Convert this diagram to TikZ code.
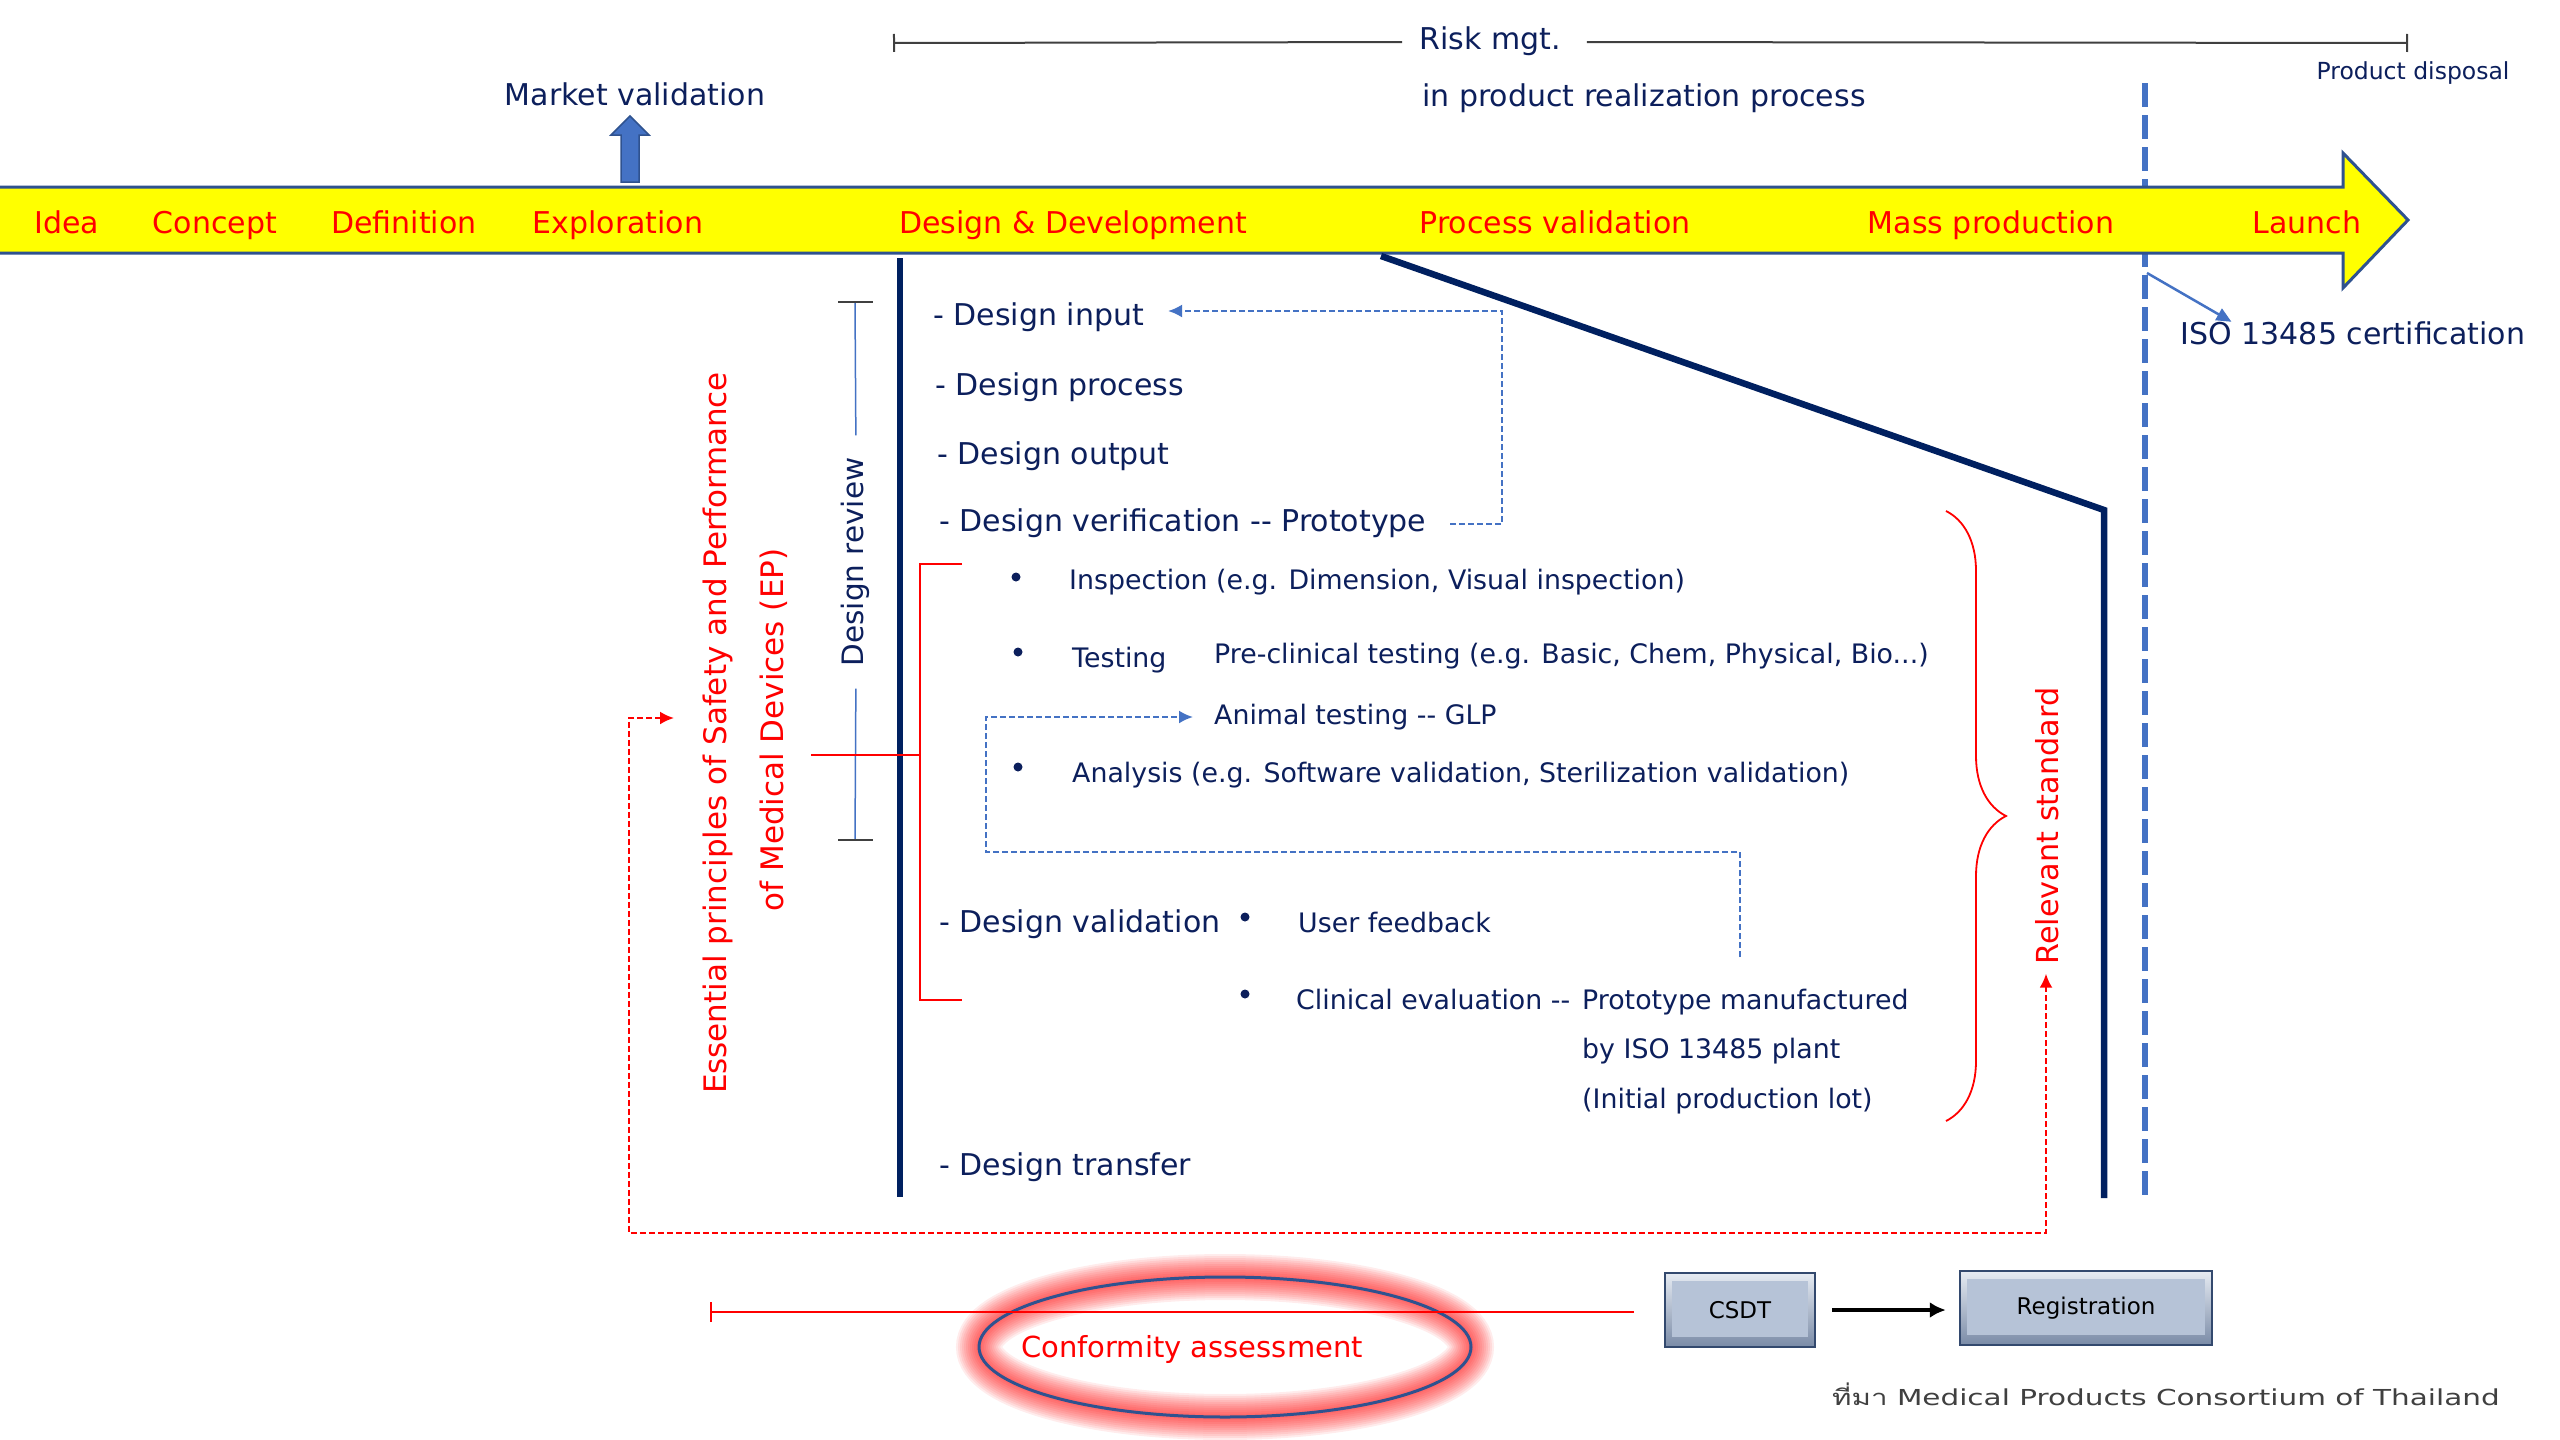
\documentclass[tikz,border=0pt]{standalone}
\usepackage{fontspec}
\setmainfont{DejaVu Sans}
\newfontfamily\thaifont[Script=Thai]{Loma}
\usetikzlibrary{arrows.meta,decorations.pathreplacing,shapes.geometric,calc}
\definecolor{cnavy}{HTML}{002060}
\definecolor{ctext}{HTML}{0C1F5C}
\definecolor{cblue}{HTML}{4472C4}
\definecolor{cbord}{HTML}{2F528F}
\definecolor{cred}{HTML}{FF0000}
\definecolor{cgray}{HTML}{404040}
\definecolor{cyel}{HTML}{FFFF00}
\definecolor{cboxb}{HTML}{33496E}
\definecolor{cboxt}{HTML}{E6EBF2}
\definecolor{cboxm}{HTML}{B6C3D7}
\definecolor{cboxd}{HTML}{7A8BA7}
\newcommand{\fsz}[1]{\fontsize{#1}{#1}\selectfont}
\begin{document}
\begin{tikzpicture}[x=1pt,y=-1pt,
  txt/.style={inner sep=0pt, text height=22.8pt, text depth=7.2pt},
  band/.style={txt, text=cred, font=\fsz{30}},
  mainitem/.style={txt, anchor=west, text=ctext, font=\fsz{30}},
  subitem/.style={inner sep=0pt, text height=20.4pt, text depth=6.4pt, anchor=west, text=ctext, font=\fsz{26.8}},
  rot/.style={txt, rotate=90},
  bul/.style={circle, fill=ctext, inner sep=0pt, minimum size=9pt},
  bdash/.style={cblue, line width=2.2pt, dash pattern=on 6pt off 3pt},
  rdash/.style={cred, line width=2.2pt, dash pattern=on 6pt off 3pt},
  tipb/.style={-{Latex[length=14pt,width=13pt]}},
  sbox/.style={draw=cboxb, line width=2.5pt, top color=cboxt, bottom color=cboxd,
    inner sep=0pt, text=black, font=\fsz{23},
    path picture={\fill[cboxm] ([shift={(7pt,-8pt)}]path picture bounding box.north west) rectangle ([shift={(-7pt,10pt)}]path picture bounding box.south east);}}
]
\useasboundingbox (0,0) rectangle (2560,1440);
\fill[white] (0,0) rectangle (2560,1440);

% blue dashed vertical (behind band)
\draw[cblue, line width=6.5pt, dash pattern=on 24pt off 8pt] (2145,83) -- (2145,1197);

% yellow band arrow
\draw[cbord, line width=3pt, fill=cyel] (-5,187) -- (2343,187) -- (2343,153) -- (2408,220) -- (2343,288) -- (2343,253) -- (-5,253) -- cycle;

% band labels
\node[band] (idea) at (67,226) {Idea};
\node[band] (concept) at (215,226) {Concept};
\node[band] (defn) at (404,226) {Definition};
\node[band] (explo) at (618,226) {Exploration};
\node[band] (dd) at (1073,226) {Design \& Development};
\node[band] (pval) at (1555,226) {Process validation};
\node[band] (mass) at (1991,226) {Mass production};
\node[band] (launch) at (2307,226) {Launch};

% market validation
\draw[cbord, fill=cblue, line width=1.5pt] (621,182) -- (621,135) -- (611,135) -- (630,116) -- (649,135) -- (639,135) -- (639,182) -- cycle;
\node[txt, text=ctext, font=\fsz{30}] (mkt) at (635,98) {Market validation};

% risk management
\node[txt, text=ctext, font=\fsz{30}] (risk) at (1490,42) {Risk mgt.};
\coordinate (rkL) at (893,43);
\coordinate (rkR) at (2408,43);
\draw[cgray, line width=2pt, {Bar[width=18pt]}-, shorten >=17pt] (rkL) -- (risk.west);
\draw[cgray, line width=2pt, -{Bar[width=18pt]}, shorten <=26pt] (risk.east) -- (rkR);
\node[txt, anchor=west, text=ctext, font=\fsz{30}] (inprod) at (1422,99) {in product realization process};
\node[txt, text=ctext, font=\fsz{23.5}] (disp) at (2413,72) {Product disposal};

% ISO
\node[txt, text=ctext, font=\fsz{30}] (iso) at (2353,337) {ISO 13485 certification};
\coordinate (isoS) at (2147,273);
\draw[cblue, line width=2.5pt, -{Triangle[length=15pt,width=13pt]}] (isoS) -- ($(iso.north west)+(51,0)$);

% navy lines
\draw[cnavy, line width=6.5pt] (900,258) -- (900,1197);
\draw[cnavy, line width=6.5pt, line join=miter] (1381,256) -- (2104,510) -- (2104,1198);

% items
\node[mainitem] (din) at (933,318) {- Design input};
\node[mainitem] (dproc) at (935,388) {- Design process};
\node[mainitem] (dout) at (937,457) {- Design output};
\node[mainitem] (dver) at (939,524) {- Design verification -{}- Prototype};
\node[bul] (b1) at (1016,577) {};
\node[subitem] (insp) at (1069,582) {Inspection (e.g. Dimension, Visual inspection)};
\node[bul] (b2) at (1018,652) {};
\node[subitem] (test) at (1072,660) {Testing};
\node[subitem] (pre) at (1214,656) {Pre-clinical testing (e.g. Basic, Chem, Physical, Bio...)};
\node[subitem] (anim) at (1214,717) {Animal testing -{}- GLP};
\node[bul] (b3) at (1018,767) {};
\node[subitem] (anal) at (1072,775) {Analysis (e.g. Software validation, Sterilization validation)};
\node[mainitem] (dval) at (939,925) {- Design validation};
\node[bul] (b4) at (1245,917) {};
\node[subitem] (user) at (1298,925) {User feedback};
\node[bul] (b5) at (1245,994) {};
\node[subitem] (clin) at (1296,1002) {Clinical evaluation -{}-};
\node[subitem] (proto) at (1582,1002) {Prototype manufactured};
\node[subitem] (byiso) at (1582,1051) {by ISO 13485 plant};
\node[subitem] (initl) at (1582,1101) {(Initial production lot)};
\node[mainitem] (dtrans) at (939,1168) {- Design transfer};

% blue dashed feedback loops
\coordinate (bc1) at (1502,311);
\draw[bdash, tipb, shorten <=24pt, shorten >=24pt] (dver.east) -| (bc1) -- (din.east |- bc1);
\coordinate (bc2) at (1740,957);
\coordinate (bc3) at (986,852);
\draw[bdash, tipb, shorten >=21pt] (bc2) |- (bc3) |- (anim.west);

% design review
\node[rot, text=ctext, font=\fsz{29.5}] (dr) at (856,562) {Design review};
\coordinate (drT) at (855,302);
\coordinate (drB) at (855,840);
\draw[cblue, line width=1.5pt, shorten >=22pt] (drT) -- (dr.east);
\draw[cblue, line width=1.5pt, shorten <=22pt] (dr.west) -- (drB);
\draw[cgray, line width=2pt] (838,302) -- (873,302);
\draw[cgray, line width=2pt] (838,840) -- (873,840);

% essential principles
\node[rot, text=cred, font=\fsz{31}] (ep1) at (719,733) {Essential principles of Safety and Performance};
\node[rot, text=cred, font=\fsz{31}] (ep2) at (776,730) {of Medical Devices (EP)};
\draw[cred, line width=1.8pt] (962,564) -- (920,564) -- (920,1000) -- (962,1000);
\draw[cred, line width=1.8pt] (811,755) -- (920,755);

% relevant standard
\node[rot, text=cred, font=\fsz{30.3}] (rel) at (2051,826) {Relevant standard};
\draw[cred, line width=1.8pt, decorate, decoration={brace, amplitude=60pt}] (1946,511) -- (1946,1121);

% red dashed loop
\coordinate (epa) at (674,718);
\coordinate (lc) at (629,1233);
\coordinate (rc) at (2046,1233);
\draw[rdash, {Latex[length=14pt,width=13pt]}-{Latex[length=14pt,width=13pt]}, shorten >=9pt] (epa) -- (lc |- epa) -- (lc) -- (rc) -- (rc |- rel.west);

% conformity assessment
\foreach \w in {46,42,...,6} \draw[cred, line width=\w pt, opacity=0.075] (1225,1347) ellipse [x radius=246, y radius=70];
\node[ellipse, draw=cbord, line width=3pt, minimum width=492pt, minimum height=140pt, inner sep=0pt] (confE) at (1225,1347) {};
\node[txt, text=cred, font=\fsz{29}] (conf) at (1192,1350) {Conformity assessment};

% boxes
\node[sbox, minimum width=150pt, minimum height=74pt] (csdt) at (1740,1310) {CSDT};
\node[sbox, minimum width=252pt, minimum height=74pt] (reg) at (2086,1308) {Registration};
\draw[black, line width=3.5pt, -{Latex[length=16pt,width=16pt]}, shorten <=16pt, shorten >=13pt] (csdt.east) -- (reg.west |- csdt.east);
\coordinate (cfL) at (710,1312);
\draw[cred, line width=2pt, {Bar[width=20pt]}-, shorten >=30pt] (cfL) -- (csdt.west |- cfL);

% source
\node[txt, anchor=west, text=cgray, font=\fsz{22}] (src) at (1832,1398) {\scalebox{1.34}[1]{{\thaifont ที่มา} Medical Products Consortium of Thailand}};
\end{tikzpicture}
\end{document}
